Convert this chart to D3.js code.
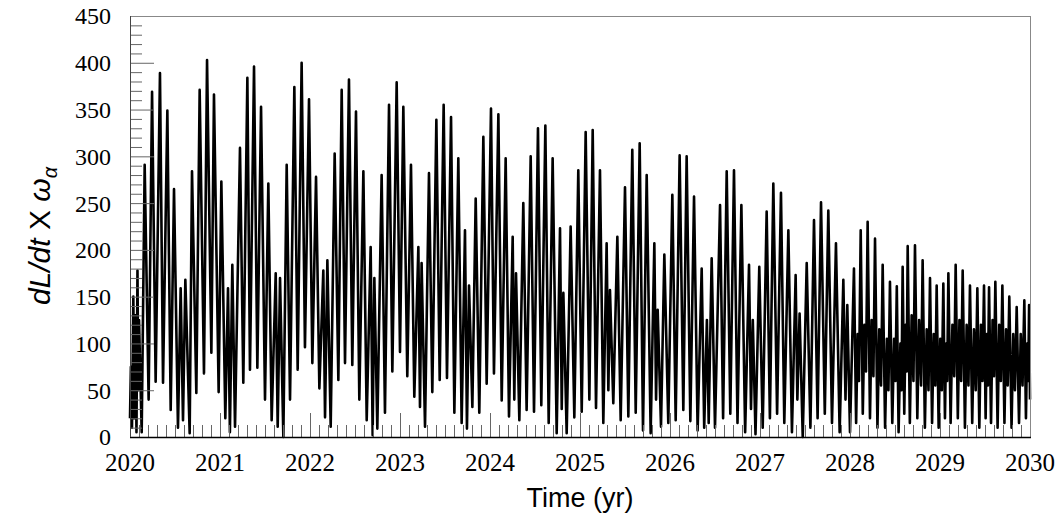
<!DOCTYPE html>
<html>
<head>
<meta charset="utf-8">
<script src="https://cdn.jsdelivr.net/npm/d3@7"></script>
<style>
  html, body { margin: 0; padding: 0; background: #fff; }
  svg { display: block; }
  .tick-label { font-family: "Liberation Serif", "Times New Roman", Times, "Nimbus Roman", "FreeSerif", Tinos, "Noto Serif", "DejaVu Serif", Georgia, serif; }
  .axis-title { font-family: "Liberation Sans", Arial, "DejaVu Sans", sans-serif; }
</style>
</head>
<body>
<svg id="chart" width="1060" height="523"></svg>
<script>
// Time (yr) of each turning point of the signal
const times = [
  2020.000, 2020.010, 2020.022, 2020.037, 2020.048, 2020.060, 2020.072, 2020.083, 2020.092, 2020.100, 2020.130,
  2020.163, 2020.207, 2020.245, 2020.285, 2020.333, 2020.367, 2020.415, 2020.452, 2020.489, 2020.533,
  2020.563, 2020.589, 2020.615, 2020.663, 2020.689, 2020.737, 2020.774, 2020.822, 2020.856, 2020.904,
  2020.933, 2020.985, 2021.015, 2021.059, 2021.089, 2021.110, 2021.137, 2021.167, 2021.222, 2021.259,
  2021.304, 2021.333, 2021.378, 2021.415, 2021.456, 2021.500, 2021.537, 2021.574, 2021.619, 2021.641,
  2021.667, 2021.704, 2021.741, 2021.778, 2021.826, 2021.863, 2021.907, 2021.944, 2021.989, 2022.026,
  2022.067, 2022.104, 2022.148, 2022.167, 2022.193, 2022.230, 2022.274, 2022.315, 2022.352, 2022.389,
  2022.433, 2022.470, 2022.511, 2022.548, 2022.593, 2022.630, 2022.674, 2022.696, 2022.715, 2022.748,
  2022.796, 2022.833, 2022.878, 2022.915, 2022.963, 2023.000, 2023.037, 2023.081, 2023.122, 2023.159,
  2023.204, 2023.222, 2023.240, 2023.278, 2023.322, 2023.359, 2023.404, 2023.441, 2023.485, 2023.522,
  2023.567, 2023.604, 2023.648, 2023.685, 2023.722, 2023.744, 2023.767, 2023.804, 2023.841, 2023.881,
  2023.926, 2023.963, 2024.011, 2024.044, 2024.093, 2024.130, 2024.174, 2024.211, 2024.252, 2024.270,
  2024.289, 2024.326, 2024.370, 2024.407, 2024.452, 2024.489, 2024.533, 2024.570, 2024.615, 2024.652,
  2024.696, 2024.741, 2024.778, 2024.797, 2024.815, 2024.852, 2024.896, 2024.937, 2024.981, 2025.019,
  2025.063, 2025.104, 2025.141, 2025.178, 2025.222, 2025.259, 2025.296, 2025.315, 2025.333, 2025.370,
  2025.415, 2025.452, 2025.500, 2025.537, 2025.581, 2025.619, 2025.663, 2025.700, 2025.741, 2025.785,
  2025.826, 2025.845, 2025.863, 2025.900, 2025.937, 2025.981, 2026.026, 2026.063, 2026.107, 2026.148,
  2026.185, 2026.226, 2026.267, 2026.307, 2026.352, 2026.380, 2026.410, 2026.430, 2026.463, 2026.500,
  2026.556, 2026.590, 2026.630, 2026.670, 2026.711, 2026.750, 2026.793, 2026.835, 2026.878, 2026.900,
  2026.920, 2026.950, 2026.992, 2027.030, 2027.074, 2027.110, 2027.148, 2027.190, 2027.233, 2027.270,
  2027.315, 2027.355, 2027.396, 2027.415, 2027.440, 2027.475, 2027.519, 2027.560, 2027.600, 2027.640,
  2027.678, 2027.720, 2027.759, 2027.800, 2027.844, 2027.885, 2027.926, 2027.950, 2027.970, 2028.000,
  2028.044, 2028.068, 2028.085, 2028.100, 2028.119, 2028.142, 2028.160, 2028.178, 2028.196, 2028.222,
  2028.240, 2028.260, 2028.278, 2028.305, 2028.325, 2028.345, 2028.363, 2028.390, 2028.410, 2028.427,
  2028.444, 2028.470, 2028.490, 2028.505, 2028.520, 2028.540, 2028.560, 2028.572, 2028.585, 2028.603,
  2028.618, 2028.630, 2028.641, 2028.665, 2028.685, 2028.705, 2028.722, 2028.748, 2028.768, 2028.790,
  2028.807, 2028.832, 2028.852, 2028.872, 2028.889, 2028.912, 2028.930, 2028.948, 2028.963, 2028.985,
  2029.003, 2029.020, 2029.037, 2029.055, 2029.068, 2029.080, 2029.093, 2029.118, 2029.138, 2029.158,
  2029.174, 2029.198, 2029.216, 2029.235, 2029.252, 2029.277, 2029.296, 2029.316, 2029.333, 2029.358,
  2029.377, 2029.397, 2029.415, 2029.437, 2029.455, 2029.472, 2029.489, 2029.507, 2029.520, 2029.532,
  2029.545, 2029.567, 2029.584, 2029.600, 2029.615, 2029.640, 2029.658, 2029.676, 2029.693, 2029.716,
  2029.734, 2029.752, 2029.770, 2029.795, 2029.814, 2029.833, 2029.852, 2029.878, 2029.897, 2029.917,
  2029.937, 2029.955, 2029.968, 2029.980, 2029.990, 2030.000
];

// dL/dt X omega_alpha at each turning point
const rates = [
  20, 75, 10, 150, 20, 130, 5, 178, 50, 125, 5,
  291, 40, 369, 59, 389, 58, 349, 29, 265, 10,
  159, 18, 168, 4, 284, 47, 371, 68, 403, 90,
  366, 48, 273, 20, 159, 5, 184, 11, 309, 58,
  384, 72, 396, 74, 353, 40, 271, 18, 175, 11,
  170, 0, 291, 40, 374, 72, 400, 96, 361, 79,
  278, 52, 178, 21, 189, 11, 303, 61, 371, 79,
  382, 77, 348, 40, 284, 18, 203, 2, 170, 9,
  280, 26, 355, 70, 379, 91, 353, 65, 291, 43,
  203, 32, 186, 11, 282, 48, 339, 61, 355, 63,
  342, 26, 298, 15, 221, 9, 162, 32, 255, 26,
  321, 57, 351, 68, 345, 39, 298, 22, 214, 40,
  175, 18, 250, 29, 300, 27, 330, 34, 333, 15,
  298, 4, 223, 30, 154, 4, 225, 21, 285, 27,
  326, 40, 328, 31, 285, 15, 207, 50, 157, 36,
  214, 18, 267, 22, 307, 26, 314, 7, 280, 4,
  207, 40, 136, 11, 195, 15, 259, 18, 301, 29,
  300, 17, 257, 7, 180, 10, 125, 15, 191, 10,
  248, 20, 284, 25, 285, 15, 248, 5, 184, 30,
  125, 3, 182, 10, 241, 20, 271, 25, 261, 15,
  221, 5, 173, 40, 132, 0, 186, 10, 232, 20,
  251, 25, 242, 15, 207, 5, 168, 40, 141, 5,
  180, 15, 110, 60, 221, 25, 120, 70, 230, 20,
  125, 65, 212, 10, 115, 55, 184, 10, 105, 50,
  166, 15, 105, 60, 161, 5, 100, 50, 182, 25,
  120, 70, 204, 15, 130, 60, 205, 20, 125, 55,
  189, 10, 115, 50, 170, 15, 110, 55, 162, 10,
  105, 50, 164, 20, 100, 60, 175, 15, 120, 65,
  184, 20, 125, 60, 178, 10, 120, 55, 162, 15,
  115, 50, 159, 10, 120, 60, 162, 20, 110, 55,
  160, 15, 125, 65, 166, 10, 120, 60, 162, 15,
  115, 55, 150, 10, 110, 50, 139, 15, 110, 55,
  146, 20, 100, 60, 141, 40
];

const yTicks = [0, 50, 100, 150, 200, 250, 300, 350, 400, 450];
const xTicks = [2020, 2021, 2022, 2023, 2024, 2025, 2026, 2027, 2028, 2029, 2030];

const svg = d3.select("#chart");
const plotL = 130, plotR = 1030, plotT = 16, plotB = 437;

const x = d3.scaleLinear().domain([2020, 2030]).range([plotL, plotR]);
const y = d3.scaleLinear().domain([0, 450]).range([plotB, plotT]);

const points = times.map((t, i) => [t, rates[i]]);

// signal trace
svg.append("path")
  .datum(points)
  .attr("fill", "none")
  .attr("stroke", "#000")
  .attr("stroke-width", 2.6)
  .attr("stroke-linejoin", "round")
  .attr("d", d3.line().x(d => x(d[0])).y(d => y(d[1])));

// minor and major ticks pointing into the frame
const tickColor = "#666";
const g = svg.append("g");
const yMinor = d3.range(0, 451, 10);
g.selectAll(".ym").data(yMinor).join("line")
  .attr("x1", plotL).attr("x2", d => plotL + (d % 50 === 0 ? 24 : 12))
  .attr("y1", d => y(d) + 0.5).attr("y2", d => y(d) + 0.5)
  .attr("stroke", tickColor).attr("stroke-width", 1);
const xMinor = d3.range(0, 101).map(i => 2020 + i / 10);
g.selectAll(".xm").data(xMinor).join("line")
  .attr("x1", d => x(d) + 0.5).attr("x2", d => x(d) + 0.5)
  .attr("y1", plotB).attr("y2", (d, i) => plotB - (i % 10 === 0 ? 24 : 12))
  .attr("stroke", tickColor).attr("stroke-width", 1);

// frame
svg.append("rect")
  .attr("x", plotL + 0.5).attr("y", plotT + 0.5)
  .attr("width", plotR - plotL).attr("height", plotB - plotT)
  .attr("fill", "none").attr("stroke", "#888").attr("stroke-width", 1);
svg.append("line")
  .attr("x1", plotL).attr("x2", plotR + 1)
  .attr("y1", plotB + 0.5).attr("y2", plotB + 0.5)
  .attr("stroke", "#000").attr("stroke-width", 1.5);
svg.append("line")
  .attr("x1", plotL + 0.5).attr("x2", plotL + 0.5)
  .attr("y1", plotT).attr("y2", plotB)
  .attr("stroke", "#444").attr("stroke-width", 1);

// tick labels
svg.append("g").selectAll("text").data(yTicks).join("text")
  .attr("class", "tick-label")
  .attr("x", 111).attr("y", d => y(d))
  .attr("dy", "0.35em")
  .attr("text-anchor", "end")
  .attr("font-size", 24)
  .attr("fill", "#000")
  .text(d => d);
svg.append("g").selectAll("text").data(xTicks).join("text")
  .attr("class", "tick-label")
  .attr("x", d => x(d)).attr("y", 471)
  .attr("text-anchor", "middle")
  .attr("font-size", 25)
  .attr("fill", "#000")
  .text(d => d);

// axis titles
svg.append("text")
  .attr("class", "axis-title")
  .attr("x", 580).attr("y", 507)
  .attr("text-anchor", "middle")
  .attr("font-size", 27)
  .text("Time (yr)");

const yt = svg.append("text")
  .attr("class", "axis-title")
  .attr("transform", "translate(50,236) rotate(-90)")
  .attr("text-anchor", "middle")
  .attr("font-size", 30);
yt.append("tspan").attr("font-style", "italic").text("dL/dt");
yt.append("tspan").text(" X ");
yt.append("tspan").attr("font-style", "italic").text("ω");
yt.append("tspan").attr("font-style", "italic")
  .attr("font-size", 20).attr("dy", 7).text("α");
</script>
</body>
</html>
